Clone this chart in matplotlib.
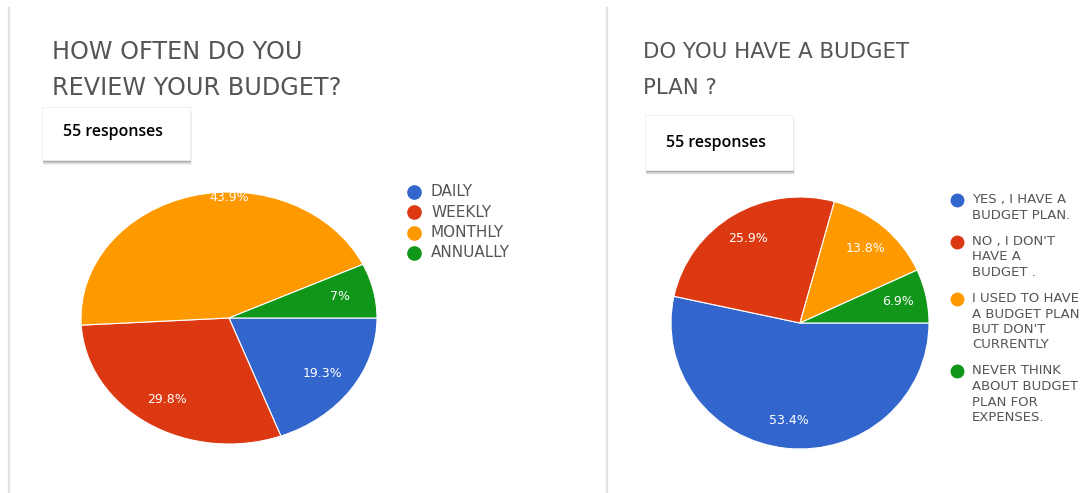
import numpy as np
import matplotlib.pyplot as plt
from matplotlib.lines import Line2D
from matplotlib.patches import Rectangle

# Survey answers, 55 responses each
review_labels = ["DAILY", "WEEKLY", "MONTHLY", "ANNUALLY"]
review_pct = [19.3, 29.8, 43.9, 7]

plan_labels = ["YES , I HAVE A\nBUDGET PLAN.",
               "NO , I DON'T\nHAVE A\nBUDGET .",
               "I USED TO HAVE\nA BUDGET PLAN\nBUT DON'T\nCURRENTLY",
               "NEVER THINK\nABOUT BUDGET\nPLAN FOR\nEXPENSES."]
plan_pct = [53.4, 25.9, 13.8, 6.9]

titles = ["HOW OFTEN DO YOU\nREVIEW YOUR BUDGET?", "DO YOU HAVE A BUDGET\nPLAN ?"]
responses = "55 responses"

colors = ["#3366CC", "#DC3912", "#FF9900", "#109618"]
W, H = 1092, 493


def fx(px):
    return px / W


def fy(py):
    return 1 - py / H


fig = plt.figure(figsize=(W / 100, H / 100), dpi=100)
fig.patch.set_facecolor("white")

# card borders on the left side
for x0 in (9, 607):
    fig.add_artist(Line2D([fx(x0), fx(x0)], [fy(8), 0], transform=fig.transFigure,
                          color="#e2e2e2", lw=1.6))


def draw_pie(box, values, label_r, big_r):
    ax = fig.add_axes(box)
    wedges, texts = ax.pie(values, colors=colors, startangle=0, counterclock=False,
                           radius=1, wedgeprops=dict(edgecolor="white", linewidth=0.8))
    ax.set_aspect("auto")
    ax.set_xlim(-1, 1)
    ax.set_ylim(-1, 1)
    for w, v in zip(wedges, values):
        ang = np.deg2rad((w.theta1 + w.theta2) / 2)
        r = label_r
        if v == max(values) and big_r is not None:
            ang = np.deg2rad(big_r[0])
            r = big_r[1]
        ax.text(r * np.cos(ang), r * np.sin(ang), f"{v:g}%", color="white",
                ha="center", va="center", fontsize=9, family="DejaVu Sans")
    return ax


draw_pie([fx(81), fy(444), fx(377) - fx(81), fy(192) - fy(444)], review_pct, 0.77, (90, 0.96))
draw_pie([fx(671), fy(449), fx(929) - fx(671), fy(197) - fy(449)], plan_pct, 0.78, None)

# titles, one text per line
for (x0, size), title in zip([(52, 17.2), (643, 15.3)], titles):
    for j, part in enumerate(title.split("\n")):
        fig.text(fx(x0), fy(52 + j * 36), part, ha="left", va="center", fontsize=size,
                 color="#555555", family="DejaVu Sans")

# "55 responses" boxes with a soft shadow
for (x0, y0, x1, y1, ty) in [(42, 107, 190, 160, 132), (645, 115, 793, 170, 143)]:
    for k, a in [(5, 0.05), (4, 0.07), (3, 0.1), (2, 0.14)]:
        fig.add_artist(Rectangle((fx(x0 + 1), fy(y1 + k)), fx(x1 - x0 - 1 + k / 3),
                                 fy(y0) - fy(y1), transform=fig.transFigure,
                                 facecolor="black", alpha=a, edgecolor="none"))
    fig.add_artist(Rectangle((fx(x0), fy(y1)), fx(x1 - x0), fy(y0) - fy(y1),
                             transform=fig.transFigure, facecolor="white",
                             edgecolor="#eeeeee", lw=0.6))
    fig.text(fx(x0 + 21), fy(ty), responses, ha="left", va="center",
             fontsize=11.5, weight="semibold", family="Open Sans", color="black")

# legends
for i, lab in enumerate(review_labels):
    y = 192 + i * 20.3
    fig.add_artist(Line2D([fx(414)], [fy(y)], marker="o", markersize=9.5, color=colors[i],
                          transform=fig.transFigure, linestyle="none"))
    fig.text(fx(431), fy(y), lab, ha="left", va="center", fontsize=11,
             color="#555555", family="DejaVu Sans")

y = 200
line_h = 15.5
for i, lab in enumerate(plan_labels):
    fig.add_artist(Line2D([fx(957)], [fy(y)], marker="o", markersize=9, color=colors[i],
                          transform=fig.transFigure, linestyle="none"))
    for j, part in enumerate(lab.split("\n")):
        fig.text(fx(972), fy(y + j * line_h), part, ha="left", va="center", fontsize=9.5,
                 color="#555555", family="DejaVu Sans")
    y += len(lab.split("\n")) * line_h + 10.5

fig.savefig("out.png", dpi=100, facecolor="white")
